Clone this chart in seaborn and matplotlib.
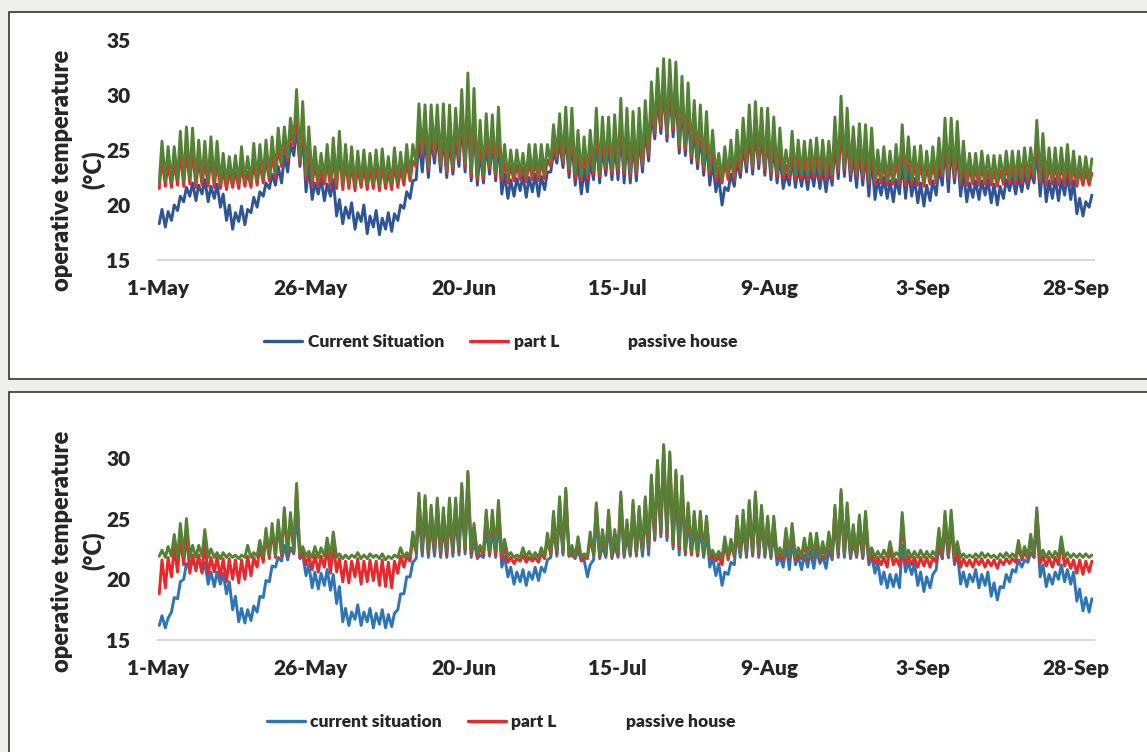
import matplotlib
matplotlib.use("Agg")
import matplotlib.pyplot as plt
from matplotlib.lines import Line2D
from matplotlib.patches import Rectangle
import numpy as np
import pandas as pd
import seaborn as sns

sns.set_theme(style="white")
plt.rcParams["font.family"] = ["Lato", "DejaVu Sans"]
plt.rcParams["font.weight"] = "bold"

# x axis: days since 1-May (hourly record, summarised as daily low / daily high)
tick_days = [0, 25, 50, 75, 100, 125, 150]
tick_labels = ["1-May", "26-May", "20-Jun", "15-Jul", "9-Aug", "3-Sep", "28-Sep"]

top_labels = ["Current Situation", "part L", "passive house"]
bot_labels = ["current situation", "part L", "passive house"]

# ---------------- top panel ----------------
cs_top_lo = [
    18.3, 18.0, 18.6, 19.5, 20.3, 20.8, 20.4, 21.0, 20.3, 20.6,
    19.8, 18.6, 17.8, 18.5, 18.2, 19.3, 19.8, 20.8, 21.5, 21.8,
    22.0, 23.0, 24.5, 23.5, 21.2, 20.5, 21.0, 20.4, 20.8, 19.0,
    18.3, 18.8, 17.8, 18.5, 17.4, 18.0, 17.3, 17.8, 17.6, 18.6,
    19.7, 20.6, 22.3, 23.0, 22.5, 23.8, 23.0, 22.5, 22.8, 23.5,
    23.0, 22.2, 21.8, 22.0, 22.8, 22.2, 21.0, 20.6, 20.8, 21.3,
    20.7, 21.2, 20.8, 21.4, 23.0, 23.8, 23.4, 22.5, 21.8, 21.0,
    21.2, 22.3, 22.0, 22.7, 22.3, 22.3, 22.0, 22.0, 22.2, 23.0,
    24.0, 26.0, 26.5, 25.8, 26.2, 24.7, 24.5, 23.8, 23.3, 22.7,
    21.8, 21.2, 20.0, 21.3, 21.7, 22.5, 23.0, 22.8, 23.3, 22.7,
    22.3, 22.0, 21.5, 21.8, 21.6, 21.7, 21.4, 21.7, 21.5, 21.2,
    21.8, 22.4, 22.6, 22.2, 21.6, 21.8, 20.8, 20.5, 20.9, 20.6,
    20.3, 21.0, 20.6, 20.8, 20.2, 19.9, 20.4, 20.9, 21.8, 21.2,
    22.0, 20.8, 20.3, 20.7, 20.5, 20.9, 20.2, 20.0, 20.6, 21.3,
    21.0, 21.2, 21.5, 22.0, 20.8, 20.3, 20.6, 20.4, 20.9, 20.5,
    19.2, 19.0, 19.8,
]
cs_top_hi = [
    19.6, 19.4, 20.0, 20.8, 21.6, 22.0, 21.8, 22.3, 21.7, 21.9,
    21.0, 20.0, 19.3, 19.9, 19.6, 20.7, 21.2, 22.0, 22.8, 23.5,
    24.5, 25.6, 27.2, 26.6, 23.6, 22.0, 22.4, 21.9, 22.3, 20.5,
    19.8, 20.2, 19.3, 20.0, 19.0, 19.5, 18.8, 19.3, 19.2, 20.0,
    21.2, 22.2, 26.0, 26.3, 26.0, 26.5, 26.3, 26.0, 26.0, 27.6,
    28.6, 27.8, 25.0, 25.6, 25.8, 26.0, 22.8, 22.3, 22.4, 22.7,
    22.5, 22.8, 22.6, 23.0, 24.8, 25.8, 26.4, 26.0, 24.0, 23.3,
    24.0, 26.0, 25.4, 25.5, 25.6, 27.0, 26.2, 25.8, 26.2, 27.0,
    28.5, 29.9, 30.8, 30.8, 30.6, 29.2, 28.6, 27.0, 26.6, 26.0,
    24.0, 22.6, 21.6, 22.8, 24.0, 25.4, 26.5, 26.8, 26.4, 26.2,
    25.5, 24.6, 22.8, 24.2, 23.4, 23.3, 23.4, 23.6, 23.4, 23.2,
    25.4, 27.2, 26.3, 24.6, 24.9, 24.8, 24.4, 22.3, 22.5, 22.2,
    22.3, 24.0, 23.2, 22.4, 22.0, 21.8, 22.2, 23.4, 25.4, 25.3,
    25.0, 23.0, 22.0, 22.2, 22.2, 22.3, 21.9, 21.7, 22.3, 22.6,
    22.6, 22.9, 23.0, 25.2, 23.6, 22.2, 22.4, 22.3, 22.8, 22.2,
    20.6, 20.3, 20.9,
]
pl_top_lo = [
    21.5, 21.7, 21.6, 21.8, 21.7, 21.9, 21.6, 21.8, 21.7, 21.6,
    21.5, 21.4, 21.6, 21.5, 21.7, 21.6, 21.8, 22.0, 22.2, 22.5,
    23.5, 24.0, 25.5, 23.8, 22.3, 21.8, 21.7, 21.9, 21.6, 21.5,
    21.4, 21.5, 21.3, 21.6, 21.4, 21.5, 21.3, 21.5, 21.4, 21.6,
    21.8, 22.2, 23.5, 24.4, 23.2, 24.5, 23.5, 22.9, 23.2, 24.1,
    23.5, 22.6, 22.3, 22.4, 23.3, 22.6, 22.2, 22.0, 22.2, 22.3,
    22.1, 22.3, 22.2, 22.4, 23.5, 24.2, 23.8, 23.0, 22.4, 22.2,
    22.4, 22.8, 22.6, 23.2, 22.8, 23.0, 22.8, 22.6, 22.8, 23.5,
    24.5, 26.5, 27.0, 26.2, 26.8, 25.2, 25.0, 24.3, 23.8, 23.2,
    22.8, 22.2, 22.0, 22.3, 22.2, 23.0, 23.5, 23.3, 23.8, 23.2,
    22.8, 22.6, 22.4, 22.5, 22.3, 22.4, 22.3, 22.5, 22.4, 22.3,
    22.4, 23.0, 23.2, 22.8, 22.6, 22.4, 22.0, 21.9, 22.0, 21.8,
    21.9, 22.0, 21.8, 21.9, 21.8, 21.7, 21.9, 22.0, 22.6, 22.4,
    22.5, 21.9, 21.8, 21.9, 21.8, 21.9, 21.8, 21.7, 21.9, 22.0,
    21.9, 22.0, 22.1, 22.5, 22.0, 21.8, 21.9, 21.8, 21.9, 21.8,
    21.7, 21.8, 21.8,
]
pl_top_hi = [
    24.2, 23.8, 23.9, 24.8, 25.0, 25.0, 24.2, 24.0, 24.4, 24.0,
    23.2, 23.0, 23.1, 23.6, 23.0, 23.9, 23.8, 24.2, 24.6, 25.2,
    25.6, 26.5, 28.0, 27.6, 25.4, 23.8, 23.3, 23.9, 24.4, 24.9,
    23.9, 23.7, 23.4, 23.5, 23.3, 23.5, 23.6, 23.0, 23.7, 23.3,
    23.9, 24.0, 27.0, 27.2, 27.0, 27.3, 27.1, 26.9, 26.8, 28.5,
    29.4, 28.6, 26.0, 26.5, 26.5, 27.0, 24.0, 23.6, 23.6, 23.4,
    24.0, 24.0, 24.0, 24.1, 25.6, 26.5, 27.2, 27.0, 25.1, 24.6,
    25.1, 26.9, 26.2, 26.3, 26.4, 27.8, 27.0, 26.7, 27.0, 27.7,
    29.2, 30.5, 31.4, 31.4, 31.2, 29.9, 29.3, 27.8, 27.4, 26.8,
    25.2, 23.4, 23.9, 24.4, 25.1, 26.2, 27.3, 27.6, 27.1, 27.0,
    26.3, 25.4, 23.6, 25.0, 24.3, 24.2, 24.3, 24.5, 24.3, 24.2,
    26.3, 28.0, 27.0, 25.4, 25.7, 25.6, 25.3, 23.6, 23.8, 23.5,
    24.0, 25.6, 24.6, 23.8, 23.9, 23.5, 23.8, 24.5, 26.2, 26.1,
    25.9, 24.2, 23.3, 23.3, 23.5, 23.1, 23.1, 23.1, 23.5, 23.5,
    23.5, 23.7, 23.7, 26.0, 24.8, 23.7, 23.7, 23.7, 24.0, 23.5,
    23.1, 23.1, 22.9,
]
ph_top_lo = [
    22.0, 22.2, 22.1, 22.3, 22.2, 22.4, 22.1, 22.3, 22.2, 22.1,
    22.0, 21.9, 22.1, 22.0, 22.2, 22.1, 22.3, 22.5, 22.6, 22.9,
    23.8, 24.3, 25.8, 24.1, 22.7, 22.3, 22.2, 22.4, 22.1, 22.0,
    21.9, 22.0, 21.8, 22.1, 21.9, 22.0, 21.8, 22.0, 21.9, 22.1,
    22.3, 22.6, 23.8, 24.7, 23.5, 24.8, 23.8, 23.2, 23.5, 24.4,
    23.8, 22.9, 22.6, 22.7, 23.6, 22.9, 22.6, 22.4, 22.6, 22.7,
    22.5, 22.7, 22.6, 22.8, 23.8, 24.5, 24.1, 23.3, 22.8, 22.6,
    22.8, 23.1, 22.9, 23.5, 23.1, 23.3, 23.1, 22.9, 23.1, 23.8,
    24.8, 26.8, 27.3, 26.5, 27.1, 25.5, 25.3, 24.6, 24.1, 23.5,
    23.1, 22.6, 22.4, 22.7, 22.6, 23.3, 23.8, 23.6, 24.1, 23.5,
    23.1, 22.9, 22.8, 22.9, 22.7, 22.8, 22.7, 22.9, 22.8, 22.7,
    22.8, 23.3, 23.5, 23.1, 22.9, 22.8, 22.4, 22.3, 22.4, 22.2,
    22.3, 22.4, 22.2, 22.3, 22.2, 22.1, 22.3, 22.4, 22.9, 22.7,
    22.8, 22.3, 22.2, 22.3, 22.2, 22.3, 22.2, 22.1, 22.3, 22.4,
    22.3, 22.4, 22.5, 22.8, 22.4, 22.2, 22.3, 22.2, 22.3, 22.2,
    22.1, 22.2, 22.2,
]
ph_top_hi = [
    25.8, 25.3, 25.3, 26.7, 27.1, 27.0, 25.9, 25.8, 26.2, 25.8,
    24.7, 24.4, 24.5, 25.3, 24.4, 25.6, 25.5, 25.9, 26.2, 27.0,
    27.1, 27.9, 30.5, 29.4, 27.1, 25.3, 24.7, 25.5, 26.1, 26.7,
    25.5, 25.3, 24.9, 25.0, 24.7, 25.0, 25.1, 24.4, 25.2, 24.8,
    25.5, 25.5, 29.2, 29.1, 29.1, 29.1, 29.2, 29.1, 28.8, 30.5,
    32.0, 30.6, 27.7, 28.3, 28.2, 28.9, 25.5, 25.0, 25.0, 24.7,
    25.5, 25.5, 25.5, 25.5, 27.3, 28.3, 28.9, 28.8, 26.8, 26.2,
    26.8, 28.8, 28.0, 28.0, 28.2, 29.7, 28.8, 28.5, 28.8, 29.5,
    31.2, 32.4, 33.3, 33.2, 33.0, 31.7, 31.1, 29.5, 29.1, 28.5,
    26.8, 24.7, 25.3, 25.9, 26.8, 27.9, 29.1, 29.4, 28.8, 28.8,
    28.0, 27.0, 25.0, 26.7, 25.9, 25.8, 25.9, 26.1, 25.9, 25.8,
    28.0, 29.9, 28.8, 27.1, 27.4, 27.3, 27.0, 25.0, 25.3, 24.9,
    25.5, 27.3, 26.2, 25.3, 25.4, 24.9, 25.3, 26.1, 27.9, 27.9,
    27.6, 25.8, 24.7, 24.7, 24.9, 24.5, 24.5, 24.5, 24.9, 24.9,
    24.9, 25.2, 25.2, 27.7, 26.5, 25.2, 25.2, 25.2, 25.5, 24.9,
    24.4, 24.4, 24.2,
]

# ---------------- bottom panel ----------------
cs_bot_lo = [
    16.2, 16.0, 17.3, 18.4, 20.0, 20.8, 21.0, 20.6, 19.6, 19.4,
    19.6, 18.8, 17.5, 16.5, 16.4, 16.6, 17.3, 18.5, 19.8, 21.0,
    21.5, 21.6, 22.1, 21.7, 20.3, 19.3, 19.2, 19.5, 19.1, 18.0,
    16.5, 16.2, 16.7, 16.2, 16.5, 16.0, 16.3, 16.0, 16.1, 17.5,
    18.8, 20.2, 21.7, 21.9, 21.8, 21.9, 21.8, 21.8, 21.9, 22.0,
    22.1, 21.8, 21.7, 21.8, 21.9, 21.8, 21.0, 20.2, 19.6, 19.8,
    19.5, 20.0, 19.9, 20.6, 21.8, 21.9, 22.0, 21.9, 21.7, 21.5,
    20.2, 21.6, 21.7, 21.8, 21.7, 21.8, 21.8, 21.9, 21.9, 21.9,
    22.0, 23.2, 23.5, 23.2, 22.5, 22.0, 22.0, 22.0, 21.9, 21.8,
    21.0, 20.3, 19.5, 20.4, 21.2, 21.8, 21.8, 21.9, 21.8, 21.8,
    21.7, 21.2, 21.0, 20.8, 21.2, 20.8, 21.0, 20.9, 21.3, 20.9,
    21.6, 21.8, 21.8, 21.7, 21.8, 21.7, 21.2, 20.5, 19.6, 19.3,
    19.4, 19.3, 20.6, 20.4, 19.5, 19.0, 19.3, 20.8, 21.7, 21.8,
    21.2, 19.6, 19.4, 19.8, 19.3, 19.5, 18.6, 18.3, 19.3, 19.8,
    20.6, 21.0, 21.4, 21.8, 20.2, 19.4, 19.6, 20.0, 19.8, 19.6,
    18.2, 17.4, 17.3,
]
cs_bot_hi = [
    17.0, 16.8, 18.5, 19.8, 21.3, 21.6, 21.7, 21.4, 20.6, 20.6,
    20.5, 19.8, 18.6, 17.6, 17.5, 17.8, 18.6, 19.9, 21.1, 21.8,
    22.8, 22.6, 25.5, 22.0, 21.2, 20.6, 20.5, 20.8, 20.4, 19.4,
    17.6, 17.3, 17.9, 17.3, 17.6, 17.2, 17.5, 17.1, 17.2, 18.8,
    20.2, 21.4, 25.5, 25.4, 24.6, 25.2, 24.4, 25.2, 25.2, 26.4,
    27.6, 23.2, 22.0, 24.2, 24.2, 25.0, 21.9, 21.0, 20.6, 20.8,
    20.6, 21.0, 21.0, 21.6, 24.2, 25.4, 26.2, 22.0, 22.4, 21.6,
    21.2, 25.0, 22.8, 24.4, 22.8, 25.9, 23.6, 25.2, 24.7, 25.5,
    27.3, 28.6, 30.0, 29.3, 27.7, 27.2, 25.0, 24.3, 24.3, 23.9,
    21.8, 21.3, 20.6, 21.4, 23.8, 24.3, 25.2, 25.9, 24.8, 23.9,
    23.9, 21.9, 22.8, 23.2, 21.9, 22.0, 22.3, 22.4, 21.9, 22.4,
    24.8, 26.1, 25.0, 23.1, 24.0, 24.3, 21.9, 21.4, 20.6, 20.4,
    20.4, 22.8, 21.4, 21.3, 20.6, 20.2, 20.4, 22.7, 24.3, 24.4,
    22.2, 20.6, 20.4, 20.8, 20.4, 20.6, 19.7, 19.4, 20.4, 20.8,
    21.6, 21.6, 22.2, 24.6, 21.2, 20.4, 20.6, 21.2, 20.8, 20.6,
    19.2, 18.5, 18.4,
]
pl_bot_lo = [
    18.8, 19.3, 20.2, 20.6, 21.2, 20.5, 20.7, 20.5, 20.4, 20.6,
    20.2, 19.8, 20.0, 19.7, 20.0, 20.3, 21.0, 21.4, 21.7, 21.8,
    21.9, 22.0, 22.3, 21.8, 21.2, 20.8, 20.6, 21.0, 20.5, 20.6,
    19.8, 19.7, 20.2, 19.6, 19.8, 19.9, 19.5, 19.4, 19.3, 20.5,
    21.0, 21.5, 22.2, 22.3, 22.1, 22.2, 22.1, 22.0, 22.2, 22.3,
    22.4, 22.1, 21.9, 22.0, 22.1, 22.0, 21.6, 21.4, 21.3, 21.5,
    21.4, 21.5, 21.4, 21.7, 22.0, 22.1, 22.2, 21.9, 21.8, 21.6,
    21.7, 22.0, 21.9, 22.0, 21.9, 22.0, 22.0, 22.1, 22.1, 22.2,
    22.6, 23.4, 23.8, 23.5, 22.8, 22.5, 22.2, 22.1, 22.0, 22.0,
    21.7, 21.5, 21.2, 21.6, 21.9, 22.0, 22.1, 22.1, 22.0, 22.0,
    21.9, 21.7, 21.6, 21.7, 21.6, 21.7, 21.6, 21.8, 21.6, 21.7,
    21.9, 22.0, 22.0, 21.9, 21.9, 21.8, 21.6, 21.3, 21.2, 21.0,
    21.2, 21.1, 21.3, 21.2, 21.0, 21.1, 21.0, 21.4, 21.7, 21.8,
    21.4, 21.0, 21.1, 21.0, 21.2, 21.0, 21.1, 20.9, 21.2, 21.3,
    21.4, 21.6, 21.7, 21.8, 21.3, 21.1, 21.0, 21.2, 21.1, 20.9,
    20.5, 20.4, 20.6,
]
pl_bot_hi = [
    21.6, 21.8, 22.6, 23.4, 23.9, 22.0, 22.0, 23.0, 21.8, 21.8,
    21.7, 21.7, 21.6, 21.6, 21.9, 21.8, 22.6, 23.6, 24.1, 24.5,
    25.5, 25.1, 27.6, 22.3, 21.9, 22.0, 21.9, 22.6, 23.0, 21.7,
    21.5, 21.5, 21.7, 21.5, 21.6, 21.5, 21.6, 21.4, 21.5, 21.9,
    21.9, 23.4, 26.8, 26.6, 25.8, 26.4, 25.6, 26.4, 26.4, 27.6,
    28.7, 24.2, 22.5, 25.3, 25.3, 26.1, 22.7, 21.8, 21.7, 22.0,
    21.8, 21.8, 22.1, 23.3, 25.2, 26.5, 27.3, 22.4, 23.0, 21.8,
    23.4, 26.0, 23.7, 25.4, 23.7, 26.9, 24.5, 26.2, 25.7, 26.5,
    28.3, 29.6, 31.0, 30.3, 28.7, 28.2, 26.0, 25.3, 25.3, 24.9,
    22.0, 21.9, 22.9, 22.8, 24.8, 25.3, 26.2, 26.9, 25.8, 24.9,
    24.9, 22.1, 23.8, 24.2, 22.1, 22.9, 23.3, 23.4, 22.6, 23.4,
    25.8, 27.1, 26.0, 24.1, 25.0, 25.3, 22.1, 21.8, 21.8, 22.6,
    21.7, 25.1, 21.9, 21.8, 21.8, 21.8, 21.8, 23.7, 25.3, 25.4,
    22.6, 21.7, 21.6, 21.7, 21.7, 21.6, 21.6, 21.6, 21.7, 21.7,
    22.7, 22.2, 23.2, 25.6, 21.9, 21.8, 21.8, 23.0, 21.7, 21.6,
    21.6, 21.5, 21.5,
]
ph_bot_lo = [
    21.9, 21.8, 21.9, 21.8, 21.9, 21.8, 21.8, 21.9, 21.8, 21.8,
    21.7, 21.8, 21.8, 21.7, 21.8, 21.8, 21.9, 21.9, 22.0, 22.0,
    22.1, 22.2, 22.4, 22.0, 21.9, 21.8, 21.8, 21.9, 21.8, 21.8,
    21.7, 21.7, 21.8, 21.7, 21.7, 21.8, 21.7, 21.6, 21.7, 21.8,
    21.8, 21.9, 22.3, 22.4, 22.3, 22.4, 22.3, 22.3, 22.4, 22.5,
    22.6, 22.3, 22.1, 22.2, 22.3, 22.3, 22.0, 21.9, 21.8, 21.8,
    21.8, 21.8, 21.8, 21.9, 22.1, 22.3, 22.3, 22.0, 21.9, 21.8,
    21.9, 22.1, 22.0, 22.1, 22.0, 22.2, 22.1, 22.2, 22.2, 22.3,
    22.8, 23.6, 24.0, 23.7, 23.0, 22.8, 22.4, 22.3, 22.2, 22.1,
    21.9, 21.8, 21.8, 21.8, 22.0, 22.1, 22.2, 22.3, 22.2, 22.1,
    22.0, 21.9, 21.9, 21.9, 21.8, 21.9, 21.8, 21.9, 21.8, 21.9,
    22.0, 22.2, 22.1, 22.0, 22.0, 22.0, 21.8, 21.8, 21.8, 21.8,
    21.8, 21.9, 21.8, 21.8, 21.8, 21.8, 21.8, 21.9, 22.0, 22.0,
    21.9, 21.8, 21.8, 21.8, 21.8, 21.8, 21.8, 21.7, 21.8, 21.8,
    21.8, 21.8, 21.9, 22.0, 21.8, 21.8, 21.8, 21.8, 21.8, 21.8,
    21.8, 21.8, 21.8,
]
ph_bot_hi = [
    22.4, 22.7, 23.7, 24.6, 25.0, 22.8, 22.8, 24.1, 22.5, 22.2,
    22.2, 22.1, 22.0, 22.0, 22.8, 22.2, 23.2, 24.2, 24.6, 24.9,
    25.9, 25.5, 27.9, 22.7, 22.3, 22.7, 22.6, 23.4, 23.9, 22.1,
    22.0, 22.0, 22.2, 22.0, 22.1, 22.0, 22.1, 21.9, 22.0, 22.6,
    22.2, 23.9, 27.1, 26.9, 26.1, 26.7, 25.9, 26.7, 26.7, 27.9,
    28.9, 24.6, 22.8, 25.7, 25.7, 26.5, 23.3, 22.2, 22.0, 22.6,
    22.3, 22.2, 22.6, 23.8, 25.6, 26.8, 27.5, 22.8, 23.5, 22.1,
    23.9, 26.3, 24.1, 25.7, 24.1, 27.2, 24.9, 26.5, 26.0, 26.8,
    28.6, 29.8, 31.1, 30.5, 29.0, 28.5, 26.3, 25.6, 25.6, 25.2,
    22.4, 22.3, 23.5, 23.3, 25.2, 25.7, 26.5, 27.2, 26.1, 25.2,
    25.2, 22.6, 24.2, 24.6, 22.6, 23.4, 23.8, 23.8, 23.1, 23.9,
    26.1, 27.4, 26.3, 24.5, 25.3, 25.6, 22.6, 22.3, 22.4, 23.1,
    22.2, 25.5, 22.4, 22.3, 22.4, 22.3, 22.3, 24.2, 25.6, 25.7,
    23.1, 22.1, 22.0, 22.1, 22.2, 22.1, 22.0, 22.1, 22.2, 22.1,
    23.2, 22.7, 23.7, 25.9, 22.4, 22.3, 22.3, 23.5, 22.2, 22.1,
    22.1, 22.1, 22.0,
]

W, H = 1147, 752
BG = "#EEEEEA"
TXT = "#262626"
RED = "#E8282B"
GREEN = "#548235"
BLUE_TOP = "#2F5597"
BLUE_BOT = "#2E75B6"


def to_long(series):
    frames = []
    for label, lo, hi in series:
        days = np.arange(len(lo))
        x = np.column_stack([days + 0.2, days + 0.65]).ravel()
        y = np.column_stack([lo, hi]).ravel()
        frames.append(pd.DataFrame({"day": x, "temp": y, "series": label}))
    return pd.concat(frames, ignore_index=True)


def style_axis(ax, ylim, yticks):
    ax.set_xlim(0, 153)
    ax.set_ylim(*ylim)
    ax.set_xticks(tick_days)
    ax.set_xticklabels(tick_labels)
    ax.set_yticks(yticks)
    ax.set_xlabel("")
    ax.set_ylabel("")
    ax.set_facecolor("white")
    for side in ["top", "right", "left"]:
        ax.spines[side].set_visible(False)
    ax.spines["bottom"].set_color("#D9D9D9")
    ax.spines["bottom"].set_linewidth(1.5)
    ax.tick_params(axis="x", length=0, pad=14, labelsize=15, colors=TXT)
    ax.tick_params(axis="y", length=0, pad=20, labelsize=15, colors=TXT)
    for t in ax.get_xticklabels() + ax.get_yticklabels():
        t.set_fontweight("heavy")


fig = plt.figure(figsize=(W / 100, H / 100), dpi=100, facecolor=BG)

# white chart boxes
fig.add_artist(Rectangle((9 / W, 1 - 379 / H), 1200 / W, 367 / H, transform=fig.transFigure,
                         facecolor="white", edgecolor="#333333", lw=1.2, zorder=0))
fig.add_artist(Rectangle((9 / W, -0.02), 1200 / W, 1 - 392 / H + 0.02, transform=fig.transFigure,
                         facecolor="white", edgecolor="#333333", lw=1.2, zorder=0))

ax_top = fig.add_axes([158 / W, 1 - 260 / H, 936 / W, 220 / H])
ax_bot = fig.add_axes([158 / W, 1 - 640 / H, 936 / W, 218.5 / H])

top_df = to_long([(top_labels[0], cs_top_lo, cs_top_hi),
                  (top_labels[1], pl_top_lo, pl_top_hi),
                  (top_labels[2], ph_top_lo, ph_top_hi)])
bot_df = to_long([(bot_labels[0], cs_bot_lo, cs_bot_hi),
                  (bot_labels[1], pl_bot_lo, pl_bot_hi),
                  (bot_labels[2], ph_bot_lo, ph_bot_hi)])

top_pal = {top_labels[0]: BLUE_TOP, top_labels[1]: RED, top_labels[2]: GREEN}
bot_pal = {bot_labels[0]: BLUE_BOT, bot_labels[1]: RED, bot_labels[2]: GREEN}

sns.lineplot(data=top_df, x="day", y="temp", hue="series", hue_order=top_labels,
             palette=top_pal, estimator=None, sort=False, linewidth=2.1, legend=False, ax=ax_top)
sns.lineplot(data=bot_df, x="day", y="temp", hue="series", hue_order=bot_labels,
             palette=bot_pal, estimator=None, sort=False, linewidth=2.1, legend=False, ax=ax_bot)

style_axis(ax_top, (15, 35), [15, 20, 25, 30, 35])
style_axis(ax_bot, (15, 33), [15, 20, 25, 30])

for yc in (170, 551):
    fig.text(78 / W, 1 - yc / H, "operative temperature\n(°C)", rotation=90, ha="center", va="center",
             multialignment="center", fontsize=17, fontweight="heavy", color=TXT, linespacing=1.45)

for labels, pal, yc in ((top_labels, top_pal, 342), (bot_labels, bot_pal, 722)):
    handles = [Line2D([], [], color=pal[labels[0]], lw=2.4),
               Line2D([], [], color=pal[labels[1]], lw=2.4),
               Line2D([], [], color="none", lw=2.4)]
    leg = fig.legend(handles, labels, loc="center", bbox_to_anchor=(501 / W, 1 - yc / H), ncol=3,
                     frameon=False, fontsize=12.5, handlelength=2.2, handletextpad=0.3,
                     columnspacing=1.5)
    for t in leg.get_texts():
        t.set_fontweight("heavy")
        t.set_color(TXT)

fig.savefig("out.png", dpi=100, facecolor=BG)
